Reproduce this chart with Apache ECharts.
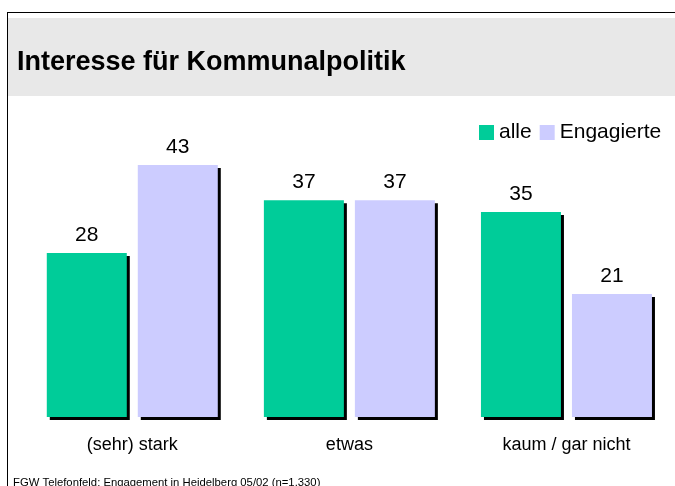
<!DOCTYPE html>
<html>
<head>
<meta charset="utf-8">
<script src="https://cdn.jsdelivr.net/npm/echarts@6/dist/echarts.min.js"></script>
<style>
html,body{margin:0;padding:0;background:#fff}
#main{width:675px;height:486px}
</style>
</head>
<body>
<div id="main"></div>
<script>
var categories = ['(sehr) stark', 'etwas', 'kaum / gar nicht'];
var alle = [28, 37, 35];
var engagierte = [43, 37, 21];
var seriesNames = ['alle', 'Engagierte'];

var fontFam = '"Liberation Sans", Arial, sans-serif';

var myChart = echarts.init(document.getElementById('main'));

// bars with hard black drop shadow
var barStyle = function (c) {
    return {
        color: c,
        shadowColor: '#000',
        shadowOffsetX: 3,
        shadowOffsetY: 3,
        shadowBlur: 0
    };
};
var _label = {
    show: true,
    position: 'top',
    distance: 7,
    color: '#000',
    fontSize: 21,
    fontFamily: fontFam
};

var option = {
    backgroundColor: '#fff',
    animation: false,
    title: {
        text: 'Interesse für Kommunalpolitik',
        left: 12,
        top: 44,
        textStyle: {
            fontSize: 27,
            fontWeight: 'bold',
            color: '#000',
            fontFamily: fontFam
        }
    },
    legend: {
        data: seriesNames,
        left: 474,
        top: 117,
        itemWidth: 15,
        itemHeight: 15,
        itemGap: 8,
        icon: 'rect',
        itemStyle: {shadowColor: 'rgba(0,0,0,0)', shadowOffsetX: 0, shadowOffsetY: 0},
        textStyle: {fontSize: 21, color: '#000', fontFamily: fontFam, padding: [0, 0, 0, 0]}
    },
    grid: {
        left: 23.75,
        width: 652.5,
        top: 124,
        height: 293
    },
    xAxis: {
        type: 'category',
        data: categories,
        axisLine: {show: false},
        axisTick: {show: false},
        axisLabel: {
            margin: 19,
            fontSize: 18,
            color: '#000',
            fontFamily: fontFam
        }
    },
    yAxis: {
        type: 'value',
        min: 0,
        max: 50,
        show: false
    },
    series: [{
        type: 'bar',
        name: seriesNames[0],
        data: alle,
        barWidth: 80,
        barGap: '13.75%',
        itemStyle: barStyle('#00cc99'),
        label: _label
    }, {
        type: 'bar',
        name: seriesNames[1],
        data: engagierte,
        barWidth: 80,
        barGap: '13.75%',
        itemStyle: barStyle('#ccccff'),
        label: _label
    }],
    graphic: [{
        type: 'rect',
        shape: {x: 8, y: 18, width: 667, height: 78},
        style: {fill: '#e8e8e8'},
        z: -1
    }, {
        type: 'line',
        shape: {x1: 7, y1: 12.5, x2: 675, y2: 12.5},
        style: {stroke: '#000', lineWidth: 1}
    }, {
        type: 'line',
        shape: {x1: 7.5, y1: 12, x2: 7.5, y2: 486},
        style: {stroke: '#000', lineWidth: 1}
    }, {
        type: 'text',
        left: 13,
        top: 477.5,
        style: {
            text: 'FGW Telefonfeld: Engagement in Heidelberg 05/02 (n=1.330)',
            fontSize: 11.3,
            fill: '#000',
            fontFamily: fontFam
        }
    }]
};

myChart.setOption(option);
window.addEventListener("resize", function () {
    myChart.resize();
});
</script>
</body>
</html>
